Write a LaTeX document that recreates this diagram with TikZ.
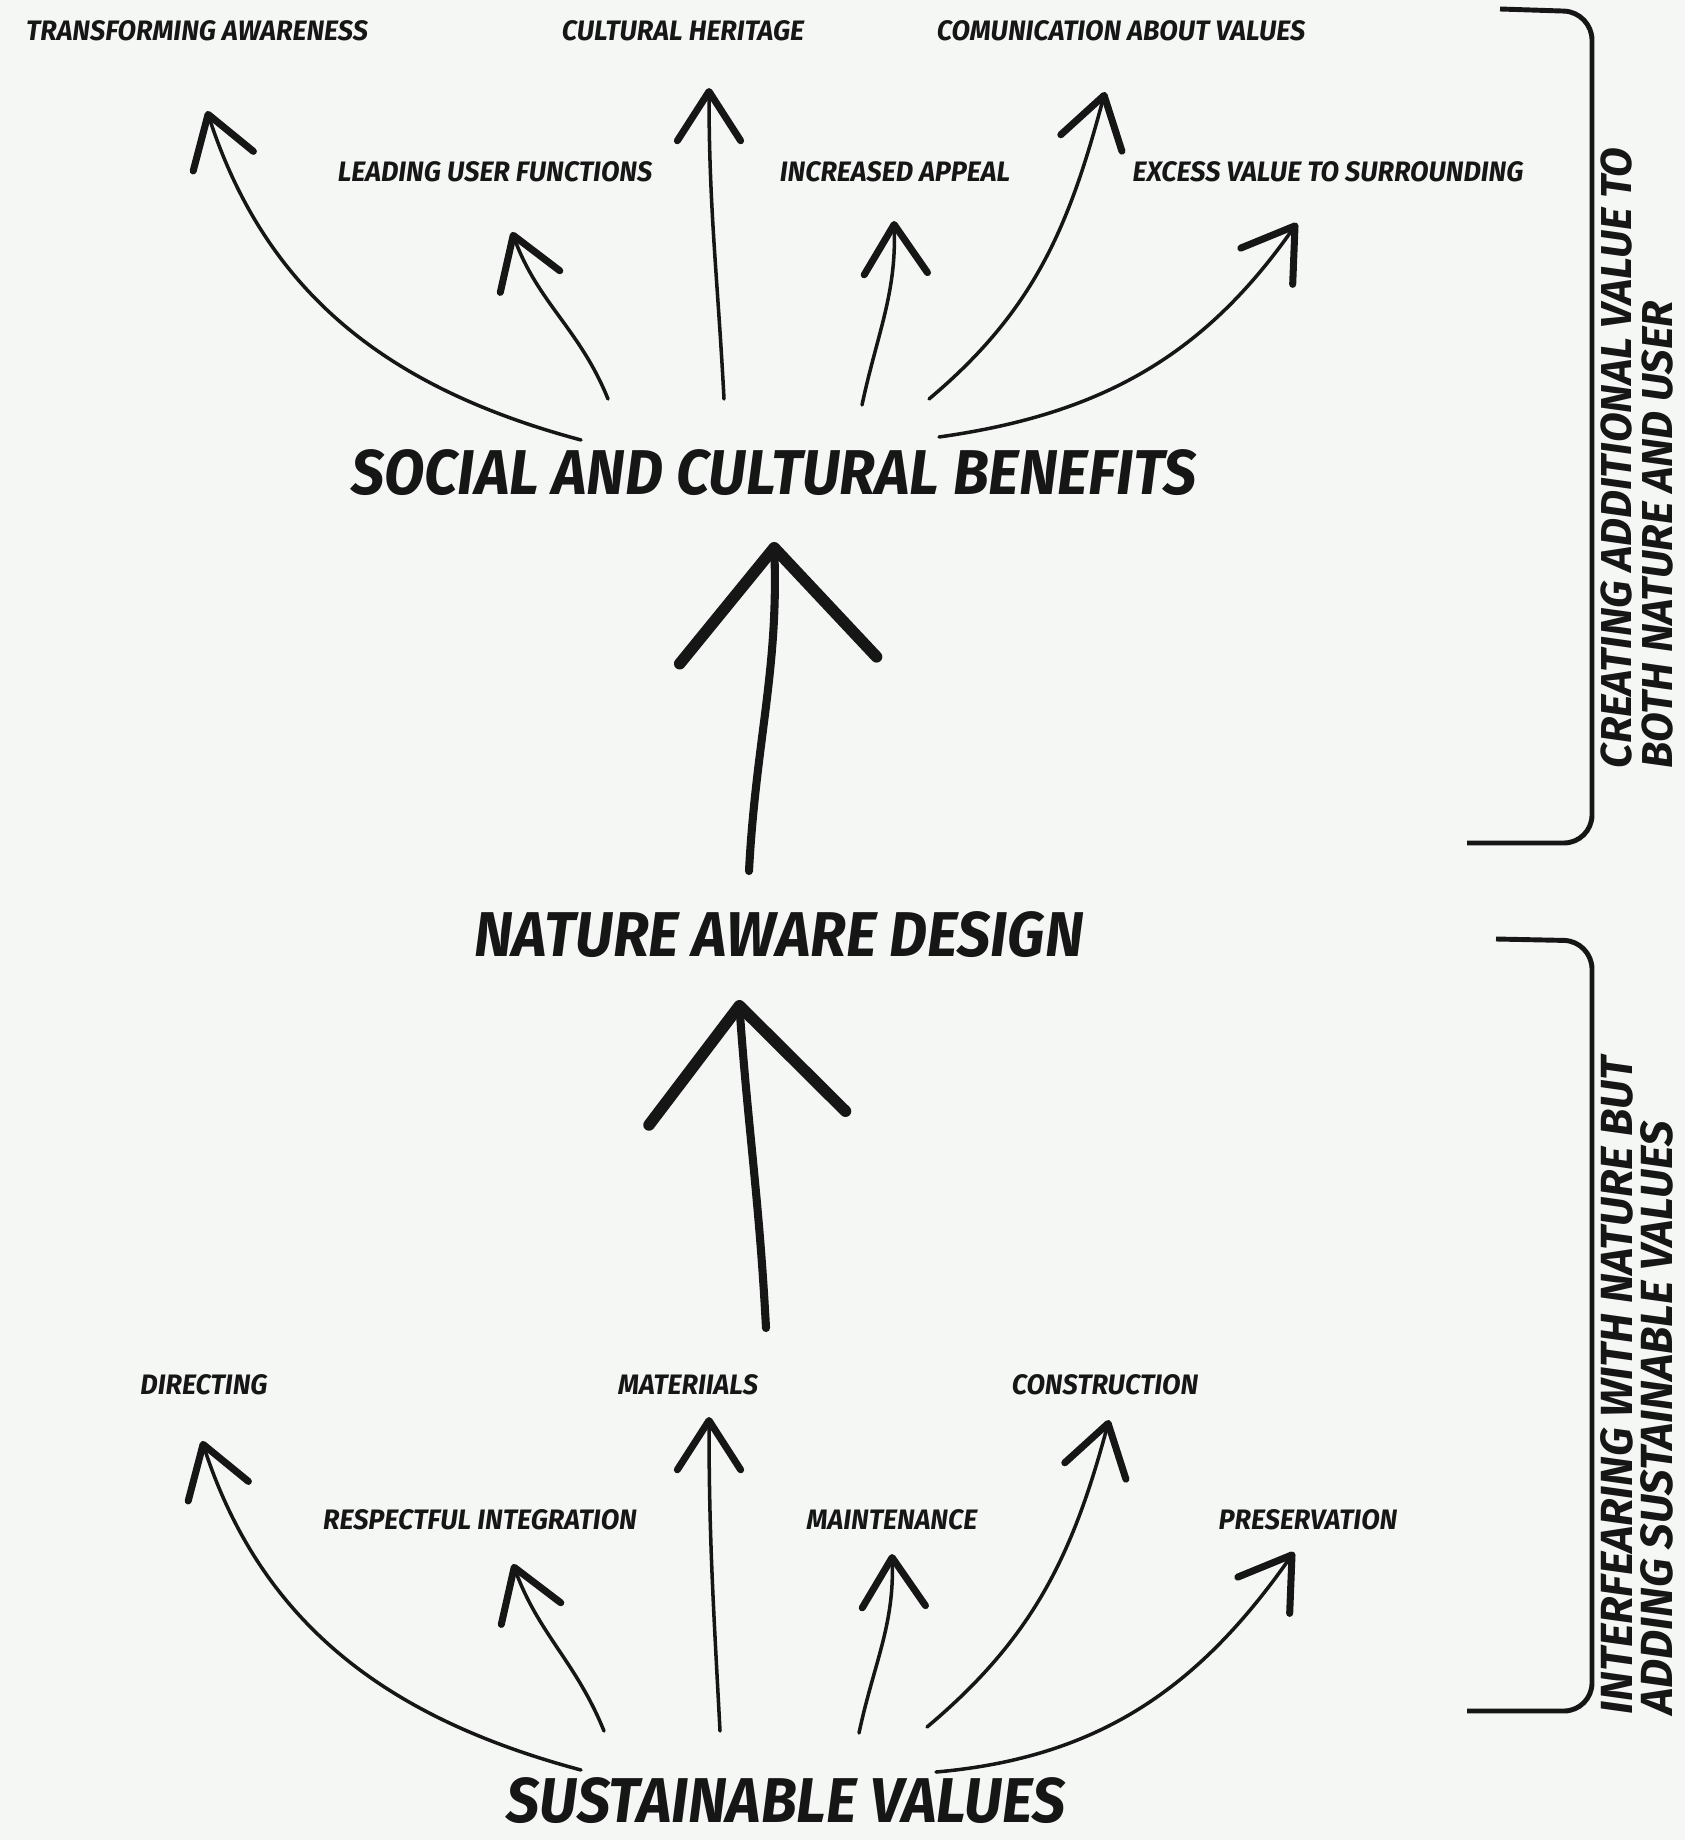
\documentclass[tikz,border=0pt]{standalone}
\usepackage{fontspec}
\setmainfont{Fira Sans}
\usetikzlibrary{arrows.meta}
\definecolor{paper}{RGB}{245,247,245}
\definecolor{ink}{RGB}{22,22,22}
\tikzstyle{smalltext} = [font=\fontsize{8}{9}\selectfont\bfseries\itshape, text=ink, inner sep=0pt, xscale=0.96]
\tikzstyle{bigtext} = [font=\fontsize{18}{20}\selectfont\bfseries\itshape, text=ink, inner sep=0pt, xscale=0.93]
\tikzstyle{sidetext} = [font=\fontsize{12.3}{11.5}\selectfont\bfseries\itshape, text=ink, rotate=90, align=left, inner sep=0pt, anchor=west]
\tikzstyle{arrow} = [draw=ink, line width=1pt, line cap=round, -{Straight Barb[round, length=14pt, width=18pt, line width=2pt]}]
\tikzstyle{bigarrow} = [draw=ink, line width=2.3pt, line cap=round, -{Straight Barb[round, length=32pt, width=56pt, line width=3.3pt]}]
\tikzstyle{bracket} = [draw=ink, line width=1.4pt, rounded corners=8pt]

\begin{document}
\begin{tikzpicture}[x=0.01cm, y=-0.01cm]
	\fill[paper] (0,0) rectangle (1685,1840);
	\useasboundingbox (0,0) rectangle (1685,1840);
	% main levels
	\node (social) at (774, 473) [bigtext] {SOCIAL AND CULTURAL BENEFITS};
	\node (nature) at (779, 935) [bigtext] {NATURE AWARE DESIGN};
	\node (sustain) at (786, 1801) [bigtext] {SUSTAINABLE VALUES};
	% benefits
	\node (transf) at (197, 31) [smalltext] {TRANSFORMING AWARENESS};
	\node (heritage) at (683, 31) [smalltext] {CULTURAL HERITAGE};
	\node (comunic) at (1121, 31) [smalltext] {COMUNICATION ABOUT VALUES};
	\node (leading) at (495, 172) [smalltext] {LEADING USER FUNCTIONS};
	\node (appeal) at (895, 172) [smalltext] {INCREASED APPEAL};
	\node (excess) at (1328, 172) [smalltext] {EXCESS VALUE TO SURROUNDING};
	% values
	\node (directing) at (204, 1385) [smalltext] {DIRECTING};
	\node (materials) at (688, 1385) [smalltext] {MATERIIALS};
	\node (construct) at (1105, 1385) [smalltext] {CONSTRUCTION};
	\node (respect) at (480, 1520) [smalltext] {RESPECTFUL INTEGRATION};
	\node (maint) at (892, 1520) [smalltext] {MAINTENANCE};
	\node (preserv) at (1308, 1520) [smalltext] {PRESERVATION};
	% side notes
	\node (creating) at (1637, 769) [sidetext] {CREATING ADDITIONAL VALUE TO\\BOTH NATURE AND USER};
	\node (interfer) at (1637, 1715) [sidetext, font=\fontsize{12.8}{11.5}\selectfont\bfseries\itshape] {INTERFEARING WITH NATURE BUT\\ADDING SUSTAINABLE VALUES};
	% arrow ends
	\coordinate (transfStart) at (581, 440);  \coordinate (transfEnd) at (207, 111);
	\coordinate (leadingStart) at (608, 399); \coordinate (leadingEnd) at (512, 232);
	\coordinate (heritageStart) at (724, 399); \coordinate (heritageEnd) at (709, 88);
	\coordinate (appealStart) at (862, 405); \coordinate (appealEnd) at (894, 221);
	\coordinate (comunicStart) at (929, 399); \coordinate (comunicEnd) at (1105, 92);
	\coordinate (excessStart) at (939, 437); \coordinate (excessEnd) at (1297, 223);
	\coordinate (directingStart) at (581, 1770); \coordinate (directingEnd) at (202, 1441);
	\coordinate (respectStart) at (604, 1731); \coordinate (respectEnd) at (513, 1564);
	\coordinate (materialsStart) at (720, 1731); \coordinate (materialsEnd) at (709, 1417);
	\coordinate (maintStart) at (859, 1733); \coordinate (maintEnd) at (892, 1554);
	\coordinate (constructStart) at (927, 1727); \coordinate (constructEnd) at (1109, 1420);
	\coordinate (preservStart) at (936, 1772); \coordinate (preservEnd) at (1294, 1552);
	\coordinate (natureStart) at (749, 871); \coordinate (natureEnd) at (774, 542);
	\coordinate (sustainStart) at (766, 1328); \coordinate (sustainEnd) at (739, 1000);
	% arrows
	\draw [bigarrow] (natureStart) to[out=87, in=-88] (natureEnd);
	\draw [bigarrow] (sustainStart) to[out=93, in=-86] (sustainEnd);
	\draw [arrow] (transfStart) to[out=165, in=-72] (transfEnd);
	\draw [arrow] (leadingStart) to[out=112, in=-70] (leadingEnd);
	\draw [arrow] (heritageStart) to[out=93, in=-90] (heritageEnd);
	\draw [arrow] (appealStart) to[out=78, in=-88] (appealEnd);
	\draw [arrow] (comunicStart) to[out=40, in=-105] (comunicEnd);
	\draw [arrow] (excessStart) to[out=8, in=-125] (excessEnd);
	\draw [arrow] (directingStart) to[out=165, in=-72] (directingEnd);
	\draw [arrow] (respectStart) to[out=112, in=-70] (respectEnd);
	\draw [arrow] (materialsStart) to[out=93, in=-90] (materialsEnd);
	\draw [arrow] (maintStart) to[out=78, in=-88] (maintEnd);
	\draw [arrow] (constructStart) to[out=40, in=-105] (constructEnd);
	\draw [arrow] (preservStart) to[out=5, in=-125] (preservEnd);
	% brackets
	\draw [bracket] (1500, 9) -- (1592, 12) -- (1592, 843) -- (1467, 843);
	\draw [bracket] (1496, 939) -- (1592, 941) -- (1592, 1711) -- (1467, 1711);
\end{tikzpicture}
\end{document}
